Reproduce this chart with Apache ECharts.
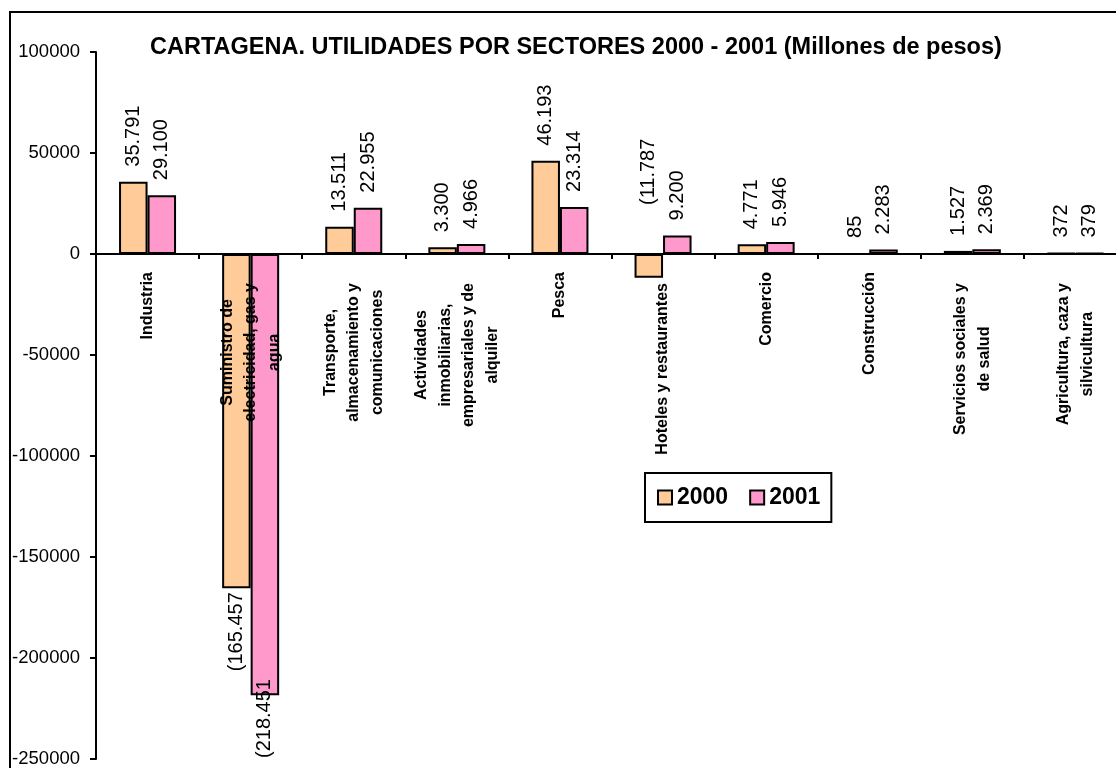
<!DOCTYPE html>
<html>
<head>
<meta charset="utf-8">
<script src="https://cdn.jsdelivr.net/npm/echarts@6/dist/echarts.min.js"></script>
<style>
html,body{margin:0;padding:0;background:#fff;}
#c{width:1116px;height:768px;}
</style>
</head>
<body>
<div id="c"></div>
<script>
// ---- data ----
const titleText = 'CARTAGENA. UTILIDADES POR SECTORES 2000 - 2001 (Millones de pesos)';
const categories = [
  'Industria',
  'Suministro de\nelectricidad, gas y\nagua',
  'Transporte,\nalmacenamiento y\ncomunicaciones',
  'Actividades\ninmobiliarias,\nempresariales y de\nalquiler',
  'Pesca',
  'Hoteles y restaurantes',
  'Comercio',
  'Construcción',
  'Servicios sociales y\nde salud',
  'Agricultura, caza y\nsilvicultura'
];
const seriesNames = ['2000', '2001'];
const values2000 = [35791, -165457, 13511, 3300, 46193, -11787, 4771, 85, 1527, 372];
const values2001 = [29100, -218451, 22955, 4966, 23314, 9200, 5946, 2283, 2369, 379];
const yMin = -250000, yMax = 100000, yInterval = 50000;

// ---- styles ----
const FONT = '"Liberation Sans", Arial, sans-serif';
const LABEL_SIZE = 20;
const colors = ['#FFCC99', '#FF99CC'];
const GRID = {left: 96, top: 52, width: 1031, height: 707};
const pxPerUnit = GRID.height / (yMax - yMin);
// place the category axis on the zero line
const zeroOffset = -GRID.height * (0 - yMin) / (yMax - yMin);
const zeroToBottom = -zeroOffset;

function fmt(v) {
  const s = Math.abs(v).toString().replace(/\B(?=(\d{3})+(?!\d))/g, '.');
  return v < 0 ? '(' + s : s;
}

const measureCtx = document.createElement('canvas').getContext('2d');
measureCtx.font = LABEL_SIZE + 'px ' + FONT;

function makeData(vals) {
  return vals.map(v => {
    const item = {value: v};
    if (v < 0) {
      if (Math.abs(v) < 20000) {
        item.label = {position: 'top', distance: 49, align: 'left'};
      } else {
        // below bar end, but kept inside plot area
        const barLen = Math.abs(v) * pxPerUnit;
        const textLen = measureCtx.measureText(fmt(v)).width;
        let dist = 4;
        if (barLen + dist + textLen > zeroToBottom - 1) dist = zeroToBottom - 1 - barLen - textLen;
        item.label = {position: 'bottom', distance: dist, align: 'right'};
      }
    }
    return item;
  });
}

// axis label rich styles (centered lines, long labels pushed a bit down)
const rich = {
  c: {align: 'center', fontWeight: 'bold', fontSize: 16, lineHeight: 23.5, fontFamily: FONT, color: '#000'},
  d: {align: 'center', fontWeight: 'bold', fontSize: 16, lineHeight: 23.5, fontFamily: FONT, color: '#000', padding: [0, 11, 0, 0]}
};

const chart = echarts.init(document.getElementById('c'), null, {renderer: 'canvas'});

const barLabel = {
  show: true,
  position: 'top',
  distance: 15,
  rotate: 90,
  align: 'left',
  verticalAlign: 'middle',
  fontSize: LABEL_SIZE,
  fontFamily: FONT,
  color: '#000',
  formatter: p => fmt(p.value)
};

chart.setOption({
  animation: false,
  backgroundColor: '#fff',
  title: {
    text: titleText,
    left: 145,
    top: 31,
    textStyle: {fontSize: 23.5, fontWeight: 'bold', fontFamily: FONT, color: '#000'}
  },
  legend: {
    data: seriesNames,
    left: 645,
    top: 473,
    orient: 'horizontal',
    icon: 'rect',
    itemWidth: 14,
    itemHeight: 14,
    itemGap: 21,
    borderColor: '#000',
    borderWidth: 2,
    padding: [13, 11, 13, 12],
    itemStyle: {borderColor: '#000', borderWidth: 2},
    textStyle: {fontSize: 23, fontWeight: 'bold', fontFamily: FONT, color: '#000'}
  },
  grid: Object.assign({containLabel: false, outerBoundsMode: 'none'}, GRID),
  xAxis: {
    type: 'category',
    data: categories,
    position: 'bottom',
    offset: zeroOffset,
    z: 10,
    axisLine: {onZero: false, lineStyle: {color: '#000', width: 2}},
    axisTick: {show: true, length: 5, lineStyle: {color: '#000', width: 2}},
    axisLabel: {
      interval: 0,
      rotate: 90,
      margin: 18,
      fontSize: 16,
      fontWeight: 'bold',
      fontFamily: FONT,
      color: '#000',
      formatter: function (value) {
        const lines = value.split('\n');
        const key = (lines.length > 1 || value.length > 15) ? 'd' : 'c';
        return lines.map(l => '{' + key + '|' + l + '}').join('\n');
      },
      rich: rich
    },
    splitLine: {show: false}
  },
  yAxis: {
    type: 'value',
    min: yMin,
    max: yMax,
    interval: yInterval,
    axisLine: {show: true, lineStyle: {color: '#000', width: 2}},
    axisTick: {show: true, length: 6, lineStyle: {color: '#000', width: 2}},
    axisLabel: {
      margin: 16,
      fontSize: 18.5,
      fontFamily: FONT,
      color: '#000',
      formatter: v => String(v)
    },
    splitLine: {show: false}
  },
  series: [values2000, values2001].map((vals, i) => ({
    name: seriesNames[i],
    type: 'bar',
    data: makeData(vals),
    barWidth: 28.5,
    barGap: '0%',
    itemStyle: {color: colors[i], borderColor: '#000', borderWidth: 2},
    label: barLabel
  })),
  graphic: [{
    type: 'rect',
    silent: true,
    z: 100,
    shape: {x: 10, y: 12, width: 1400, height: 1000},
    style: {fill: 'none', stroke: '#000', lineWidth: 2}
  }]
});
</script>
</body>
</html>
